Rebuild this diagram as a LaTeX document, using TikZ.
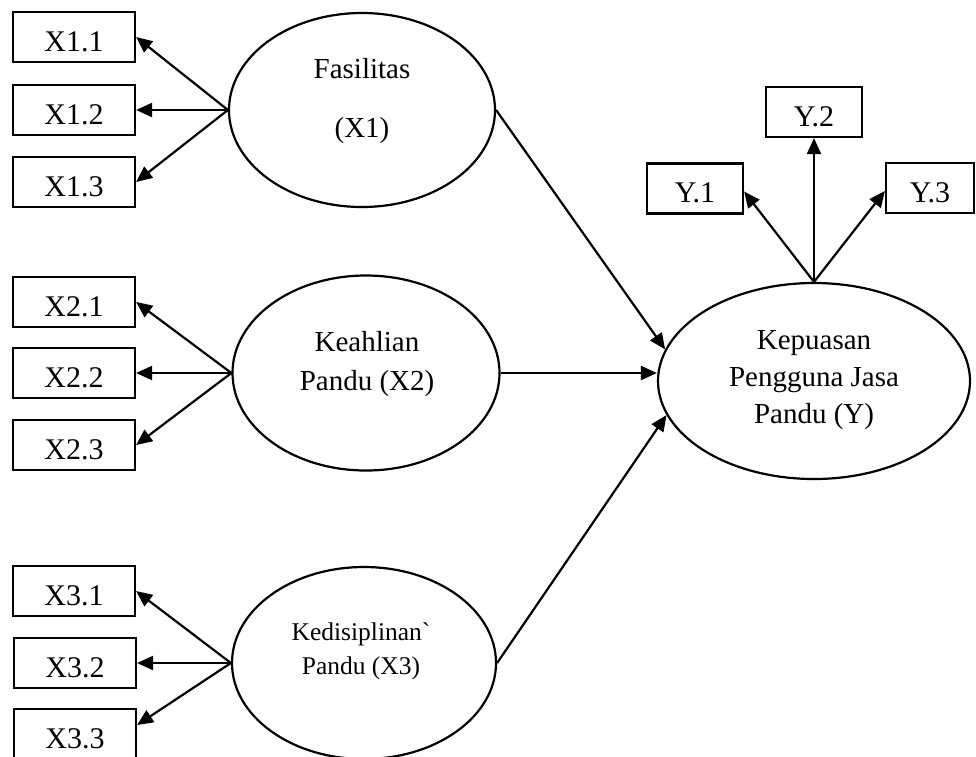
\documentclass[tikz,border=0pt]{standalone}
\usepackage{fontspec}
\setmainfont{Liberation Serif}
\usetikzlibrary{arrows.meta,shapes.geometric}
\begin{document}
\begin{tikzpicture}[x=1pt,y=-1pt,
  box/.style={draw, line width=2.2pt, rectangle, inner sep=0pt, minimum width=122pt, minimum height=50pt, font=\fontsize{30}{36}\selectfont, text height=28pt, text depth=0pt},
  ybox/.style={box, minimum width=96pt},
  lat/.style={draw, line width=2.2pt, ellipse, inner sep=0pt},
  txt/.style={align=center, inner sep=0pt},
  arr/.style={line width=2.2pt, -{Triangle[length=16pt,width=14pt]}}
]
\useasboundingbox (0,0) rectangle (976,756);
% indicator boxes
\node[box] (X11) at (74,37) {X1.1};
\node[box] (X12) at (74,110) {X1.2};
\node[box] (X13) at (74,182) {X1.3};
\node[box] (X21) at (74,302) {X2.1};
\node[box] (X22) at (74,373) {X2.2};
\node[box] (X23) at (74,445) {X2.3};
\node[box] (X31) at (74,591) {X3.1};
\node[box] (X32) at (75,663) {X3.2};
\node[box] (X33) at (75,734) {X3.3};
\node[ybox] (Y1) at (695,188.5) {Y.1};
\node[ybox] (Y2) at (814,112) {Y.2};
\node[ybox, minimum width=88pt] (Y3) at (930,188) {Y.3};
% latent variables
\node[lat, minimum width=266pt, minimum height=194pt] (F) at (362,110) {};
\node[lat, minimum width=267pt, minimum height=195pt] (K) at (366,373) {};
\node[lat, minimum width=264pt, minimum height=192pt] (D) at (364,663) {};
\node[lat, minimum width=312pt, minimum height=196pt] (Y) at (814,381) {};
\node[txt, font=\fontsize{29}{59}\selectfont] (Ft) at (362,101) {Fasilitas\\(X1)};
\node[txt, font=\fontsize{29}{39}\selectfont] (Kt) at (367,364) {Keahlian\\Pandu (X2)};
\node[txt, font=\fontsize{25.5}{34}\selectfont] (Dt) at (361,651.5) {Kedisiplinan\textasciigrave\\Pandu (X3)};
\node[txt, font=\fontsize{29}{37}\selectfont] (Yt) at (814,380) {Kepuasan\\Pengguna Jasa\\Pandu (Y)};
% loadings
\draw[arr] (F.west) -- (X11.east);
\draw[arr] (F.west) -- (X12.east);
\draw[arr] (F.west) -- (X13.east);
\draw[arr] (K.west) -- (X21.east);
\draw[arr] (K.west) -- (X22.east);
\draw[arr] (K.west) -- (X23.east);
\draw[arr] (D.west) -- (X31.east);
\draw[arr] (D.west) -- (X32.east);
\draw[arr] (D.west) -- ([yshift=9pt]X33.east);
\draw[arr] (Y.north) -- (Y2.south);
\draw[arr] (Y.north) -- ([yshift=-3pt]Y1.east);
\draw[arr] (Y.north) -- ([yshift=-3pt]Y3.west);
% structural paths
\draw[arr] (F.east) -- (Y.168.5);
\draw[arr] (K.east) -- (K.east -| Y.west);
\draw[arr] (D.east) -- (Y.193.3);
\end{tikzpicture}
\end{document}
